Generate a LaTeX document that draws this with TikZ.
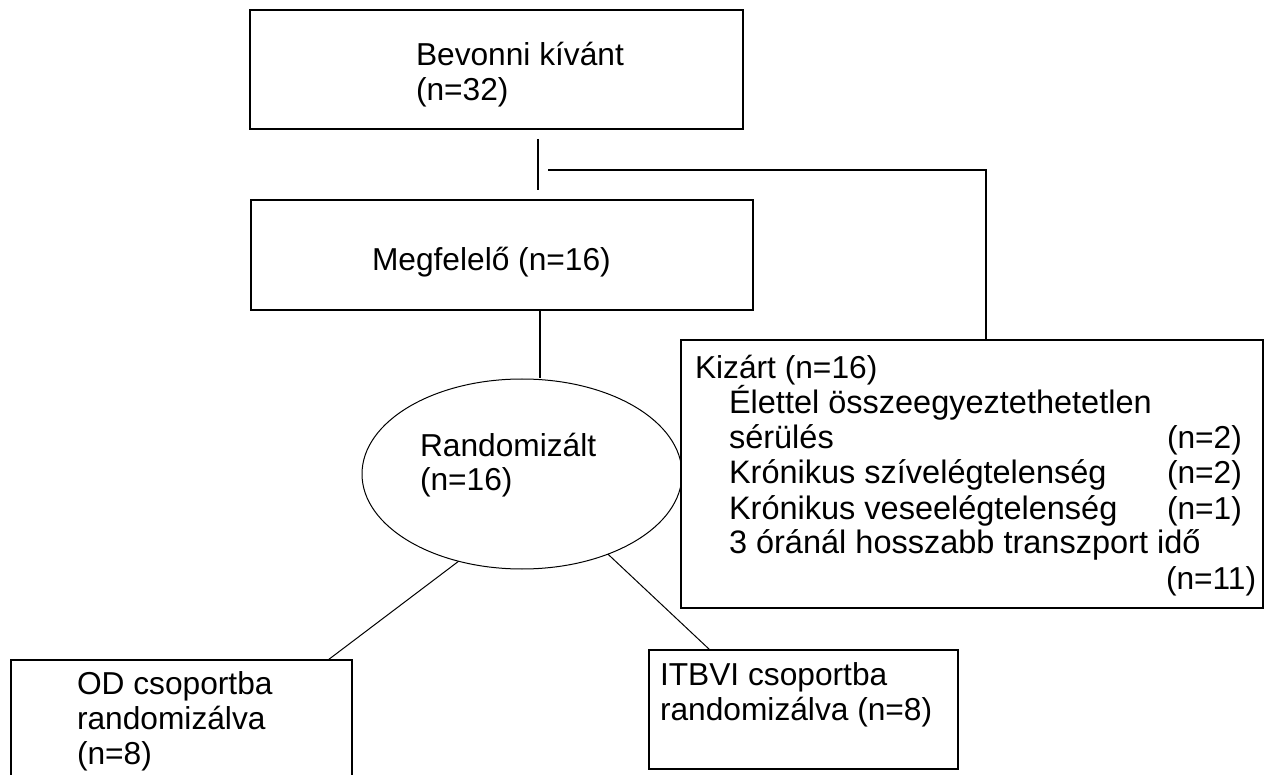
\documentclass[tikz,border=0pt]{standalone}
\usepackage{fontspec}
\setmainfont{Liberation Sans}
\usetikzlibrary{shapes.geometric}
\begin{document}
\begin{tikzpicture}[x=1pt,y=-1pt,
  box/.style={draw=black, line width=1.5pt, rectangle, inner sep=0pt, outer sep=0pt},
  oval/.style={draw=black, line width=1pt, ellipse, inner sep=0pt, outer sep=0pt, minimum width=320pt, minimum height=190pt},
  link/.style={draw=black, line width=1.5pt},
  thin/.style={draw=black, line width=1pt},
  txt/.style={anchor=base west, inner sep=0pt, outer sep=0pt, font=\fontsize{31.7}{35.4}\selectfont},
  wtxt/.style={txt, font=\fontsize{32.5}{35.4}\selectfont}]
\clip (0,0) rectangle (1270,775);
\fill[white] (0,0) rectangle (1270,775);
% boxes
\node[box, minimum width=493pt, minimum height=119pt] (top) at (496.5,69.5) {};
\node[box, minimum width=502pt, minimum height=110pt] (mid) at (502,255) {};
\node[oval] (ell) at (522,474) {};
\node[box, fill=white, minimum width=582pt, minimum height=268pt] (kiz) at (972,474) {};
\node[box, minimum width=341pt, minimum height=160pt] (od) at (181.5,740) {};
\node[box, minimum width=309pt, minimum height=119pt] (itb) at (803.5,709.5) {};
% texts
\node[txt] (t1) at (416,66) {Bevonni kívánt};
\node[txt] (t2) at (416,101) {(n=32)};
\node[txt] (t3) at (372,271) {Megfelelő (n=16)};
\node[txt] (t4) at (420,456.5) {Randomizált};
\node[txt] (t5) at (420,491) {(n=16)};
\node[txt] (k1) at (695,379) {Kizárt (n=16)};
\node[wtxt] (k2) at (729,414) {Élettel összeegyeztethetetlen};
\node[wtxt] (k3) at (729,449) {sérülés};
\node[txt] (k3n) at (1167,449) {(n=2)};
\node[wtxt] (k4) at (729,484) {Krónikus szívelégtelenség};
\node[txt] (k4n) at (1167,484) {(n=2)};
\node[wtxt] (k5) at (729,519) {Krónikus veseelégtelenség};
\node[txt] (k5n) at (1167,519) {(n=1)};
\node[wtxt] (k6) at (729,554) {3 óránál hosszabb transzport idő};
\node[txt] (k6n) at (1166,589) {(n=11)};
\node[txt] (o1) at (77,694) {OD csoportba};
\node[txt] (o2) at (77,729) {randomizálva};
\node[txt] (o3) at (77,764) {(n=8)};
\node[txt] (i1) at (660,685) {ITBVI csoportba};
\node[txt] (i2) at (660,720) {randomizálva (n=8)};
% connectors
\coordinate (a1) at (538,139);
\coordinate (a2) at (538,190);
\coordinate (b1) at (548,170);
\coordinate (b2) at (986,170);
\coordinate (c1) at (540,0);
\draw[link] (a1) -- (a2);
\draw[link] (b1) -- (b2) -- (b2 |- kiz.north);
\draw[link] (c1 |- mid.south) -- ([yshift=0.6pt]c1 |- ell.north);
\draw[thin] (ell.234) -- ([xshift=146.5pt]od.north);
\draw[thin] (ell.-43) -- ([xshift=-93.5pt]itb.north);
\end{tikzpicture}
\end{document}
